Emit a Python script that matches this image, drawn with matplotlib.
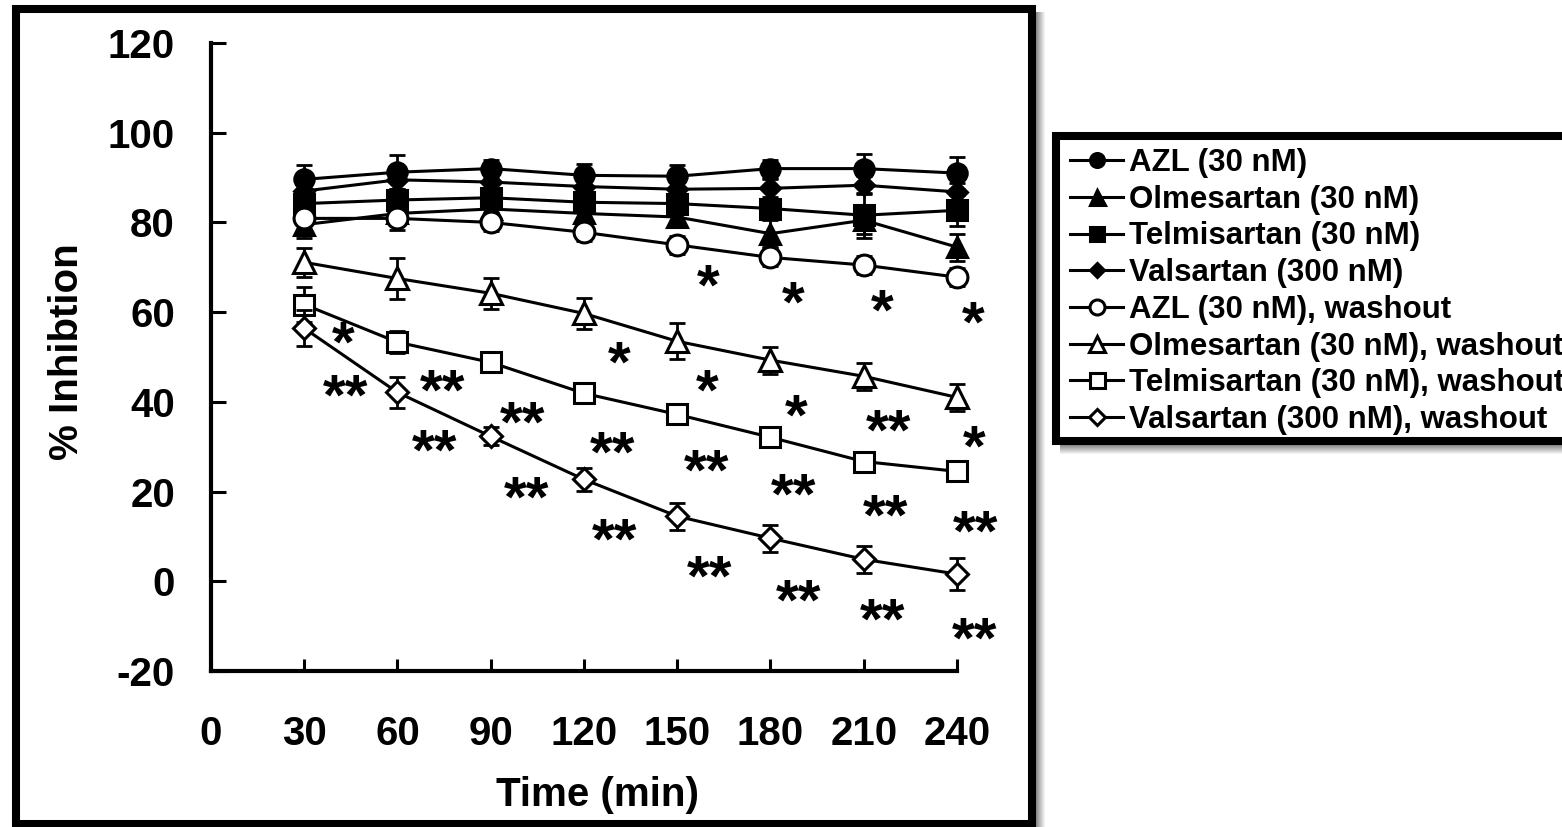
import matplotlib
matplotlib.use("Agg")
import matplotlib.pyplot as plt
from matplotlib.patches import Rectangle

plt.rcParams['font.family'] = ['Liberation Sans', 'DejaVu Sans']
plt.rcParams['font.weight'] = 'bold'
plt.rcParams['axes.unicode_minus'] = False

W, H = 1562, 827

# 时间点 (min)
time_min = [30, 60, 90, 120, 150, 180, 210, 240]

# 持续给药组
azl = [89.6, 91.2, 92.0, 90.5, 90.3, 92.0, 92.0, 91.0]
azl_err = [3.3, 3.8, 2.0, 2.5, 2.5, 2.0, 3.2, 3.5]
olm = [79.5, 82.0, 83.0, 82.0, 81.2, 77.5, 80.5, 74.5]
olm_err = [3.0, 2.5, 2.0, 2.0, 2.0, 3.0, 3.0, 3.0]
telm = [84.2, 85.0, 85.5, 84.5, 84.2, 83.1, 81.6, 82.7]
telm_err = [2.0, 2.0, 2.0, 2.0, 2.0, 2.0, 5.0, 3.5]
vals = [87.0, 89.5, 89.0, 88.0, 87.4, 87.6, 88.3, 86.8]
vals_err = [2.0, 2.0, 2.0, 2.0, 2.0, 2.0, 2.0, 2.0]

# washout 组
azl_wo = [80.9, 80.9, 80.0, 77.8, 75.0, 72.2, 70.5, 67.8]
azl_wo_err = [2.5, 2.5, 2.0, 2.0, 2.0, 2.0, 2.0, 2.0]
olm_wo = [71.1, 67.5, 64.2, 59.7, 53.5, 49.3, 45.7, 41.0]
olm_wo_err = [3.3, 4.5, 3.5, 3.5, 4.0, 3.0, 3.0, 3.0]
telm_wo = [61.7, 53.3, 48.8, 41.9, 37.2, 32.1, 26.7, 24.5]
telm_wo_err = [4.0, 2.5, 2.0, 2.0, 2.0, 2.0, 2.0, 2.0]
vals_wo = [56.4, 42.1, 32.3, 22.7, 14.5, 9.6, 4.9, 1.6]
vals_wo_err = [4.0, 3.5, 2.0, 2.5, 3.0, 3.0, 3.0, 3.5]

labels = ["AZL (30 nM)", "Olmesartan (30 nM)", "Telmisartan (30 nM)",
          "Valsartan (300 nM)", "AZL (30 nM), washout",
          "Olmesartan (30 nM), washout", "Telmisartan (30 nM), washout",
          "Valsartan (300 nM), washout"]

# 显著性标记 (时间, 纵坐标, 文本)
star_t = [159.9, 187.3, 216.1, 245.1,
          131.3, 159.7, 188.4, 218.0, 245.7,
          42.7, 74.6, 100.4, 129.2, 159.4, 187.3, 216.9, 246.1,
          43.2, 72.0, 101.5, 129.8, 160.4, 189.1, 216.1, 245.7]
star_v = [67.5, 63.8, 62.0, 59.3,
          50.4, 44.1, 38.5, 35.3, 31.6,
          54.8, 44.2, 37.0, 30.3, 26.2, 21.0, 16.2, 12.7,
          43.0, 30.7, 20.3, 11.0, 2.6, -2.7, -6.9, -11.1]
star_txt = ["*", "*", "*", "*",
            "*", "*", "*", "**", "*",
            "*", "**", "**", "**", "**", "**", "**", "**",
            "**", "**", "**", "**", "**", "**", "**", "**"]


def fx(px):
    return px / W


def fy(py):
    return 1 - py / H


fig = plt.figure(figsize=(W / 100, H / 100), dpi=100)
fig.patch.set_facecolor('white')

ax = fig.add_axes([fx(211), fy(671), (957 - 211) / W, (671 - 43) / H])

series = [
    (azl, azl_err, 'o', 'black', 14),
    (olm, olm_err, '^', 'black', 15),
    (telm, telm_err, 's', 'black', 14),
    (vals, vals_err, 'D', 'black', 10),
    (azl_wo, azl_wo_err, 'o', 'white', 15),
    (olm_wo, olm_wo_err, '^', 'white', 16),
    (telm_wo, telm_wo_err, 's', 'white', 15),
    (vals_wo, vals_wo_err, 'D', 'white', 11),
]

handles = []
for i, (y, err, mk, fc, ms) in enumerate(series):
    eb = ax.errorbar(time_min, y, yerr=err, fmt='none', ecolor='black',
                     elinewidth=2, capsize=6, capthick=2, zorder=2 + i)
    for art in eb.lines[1] + eb.lines[2]:
        art.set_clip_on(False)
    line, = ax.plot(time_min, y, color='black', lw=2.2, marker=mk, ms=ms,
                    mfc=fc, mec='black', mew=2.2, zorder=2.5 + i, clip_on=False)
    handles.append(line)

star_fs = 42
for t, v, s in zip(star_t, star_v, star_txt):
    ax.annotate(s, (t, v), xytext=(0, -0.45 * star_fs), textcoords='offset points',
                ha='center', va='baseline', fontsize=star_fs, fontweight='bold',
                annotation_clip=False)

ax.set_xlim(0, 240)
ax.set_ylim(-20, 120)
ax.set_xticks(range(0, 241, 30))
ax.set_yticks(range(-20, 121, 20))
ax.spines['top'].set_visible(False)
ax.spines['right'].set_visible(False)
ax.spines['left'].set_linewidth(3)
ax.spines['bottom'].set_linewidth(3)
ax.tick_params(axis='y', direction='in', length=10.5, width=2.2, labelsize=29, pad=26)
ax.tick_params(axis='x', direction='in', length=9, width=2.2, labelsize=29, pad=32)

ax.set_xlabel("Time (min)", fontsize=29, fontweight='bold')
ax.xaxis.set_label_coords((598 - 211) / 746, (671 - 776) / 628)
ax.set_ylabel("% Inhibtion", fontsize=29, fontweight='bold')
ax.yaxis.set_label_coords((86 - 211) / 746, (671 - 352) / 628)

# 外框及阴影
for k in range(9):
    g = 0.55 + 0.05 * k
    fig.patches.append(Rectangle((fx(1036 + k), fy(827)), 1 / W, (827 - 12) / H,
                                 transform=fig.transFigure, color=(g, g, g), lw=0))
fig.patches.append(Rectangle((fx(16), fy(823.5)), (1032 - 16) / W, (823.5 - 8.5) / H,
                             transform=fig.transFigure, fill=False, lw=5.8,
                             ec='black'))

# 图例框 (右侧超出画布)
for k in range(9):
    g = 0.55 + 0.05 * k
    fig.patches.append(Rectangle((fx(1060), fy(446 + k)), (W - 1060) / W, 1 / H,
                                 transform=fig.transFigure, color=(g, g, g), lw=0))
fig.patches.append(Rectangle((fx(1056), fy(441)), (1620 - 1056) / W, (441 - 135.5) / H,
                             transform=fig.transFigure, fc='white', ec='black',
                             lw=5.8))

leg = fig.legend(handles, labels, loc='upper left',
                 bbox_to_anchor=(fx(1060), fy(138)), borderaxespad=0,
                 prop={'weight': 'bold', 'size': 22.5},
                 handlelength=1.7, handletextpad=0.2, labelspacing=0.215,
                 borderpad=0.32, markerscale=0.72, frameon=False)

fig.savefig("out.png", dpi=100)
